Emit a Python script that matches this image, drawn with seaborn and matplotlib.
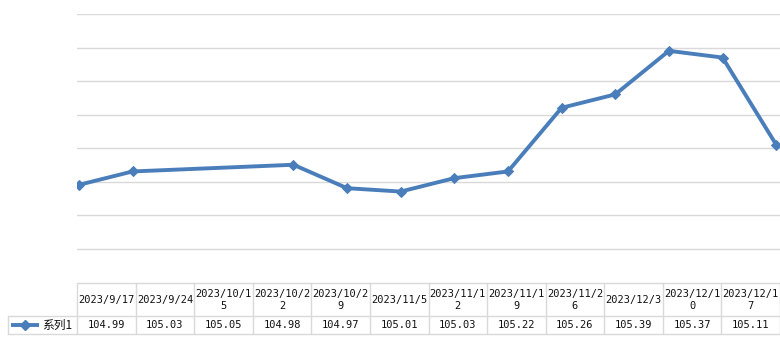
import matplotlib
matplotlib.use("Agg")
import matplotlib.pyplot as plt
import numpy as np
import pandas as pd
import seaborn as sns

# ---- data -------------------------------------------------------------------
dates = ["2023/9/17", "2023/9/24", "2023/10/15", "2023/10/22", "2023/10/29",
         "2023/11/5", "2023/11/12", "2023/11/19", "2023/11/26", "2023/12/3",
         "2023/12/10", "2023/12/17"]
header_labels = ["2023/9/17", "2023/9/24", "2023/10/1\n5", "2023/10/2\n2", "2023/10/2\n9",
                 "2023/11/5", "2023/11/1\n2", "2023/11/1\n9", "2023/11/2\n6", "2023/12/3",
                 "2023/12/1\n0", "2023/12/1\n7"]
values = [104.99, 105.03, 105.05, 104.98, 104.97, 105.01, 105.03, 105.22,
          105.26, 105.39, 105.37, 105.11]
series_name = "系列1"

sns.set_theme(style="white")
plt.rcParams["font.family"] = ["Noto Sans CJK SC", "DejaVu Sans"]

W, H = 780, 356
BLUE = "#4a7ebb"
GRID = "#d9d9d9"
MONO = ["DejaVu Sans Mono", "Noto Sans CJK SC"]
df = pd.DataFrame({"date": pd.to_datetime(dates, format="%Y/%m/%d"), "value": values})

fig = plt.figure(figsize=(W / 100, H / 100), dpi=100)

# ---- line chart -------------------------------------------------------------
ax = fig.add_axes([77 / W, (H - 282) / H, (780 - 77) / W, (282 - 14) / H])
sns.lineplot(data=df, x="date", y="value", ax=ax, color=BLUE, lw=2.8,
             marker="D", markersize=5.5, markeredgecolor=BLUE, markerfacecolor=BLUE)
d0, d1 = df["date"].iloc[0], df["date"].iloc[-1]
ax.set_xlim(d0 - pd.Timedelta(hours=6), d1 + pd.Timedelta(hours=12))
ax.set_ylim(104.7, 105.5)
ax.set_yticks(np.arange(104.8, 105.51, 0.1))
ax.yaxis.grid(True, color=GRID, lw=1)
ax.set_yticklabels([]); ax.set_xticks([])
ax.tick_params(left=False, bottom=False)
ax.set_xlabel(""); ax.set_ylabel("")
for s in ax.spines.values():
    s.set_visible(False)

# ---- data table -------------------------------------------------------------
tb = fig.add_axes([0, 0, 1, 1])
tb.set_xlim(0, W); tb.set_ylim(H, 0); tb.axis("off")
top, mid, bot = 283, 316, 334
left_col, x0, x1 = 8, 77, 780
cw = (x1 - x0) / len(values)
kw = dict(color=GRID, lw=1)
tb.plot([x0, x1], [top, top], **kw)
tb.plot([left_col, x1], [mid, mid], **kw)
tb.plot([left_col, x1], [bot, bot], **kw)
tb.plot([left_col, left_col], [mid, bot], **kw)
for i in range(len(values) + 1):
    xe = x0 + i * cw
    tb.plot([xe, xe], [top, bot], **kw)
for i, (lab, v) in enumerate(zip(header_labels, values)):
    xc = x0 + (i + 0.5) * cw
    tb.text(xc, (top + mid) / 2 + 0.5, lab, ha="center", va="center", fontsize=7.5,
            family=MONO, linespacing=1.15, color="#111111")
    tb.text(xc, (mid + bot) / 2 + 0.5, f"{v:.2f}", ha="center", va="center",
            fontsize=7.5, family=MONO, color="#111111")
tb.plot([11, 39], [325, 325], color=BLUE, lw=2.8, solid_capstyle="butt")
tb.plot([25], [325], marker="D", color=BLUE, markersize=5)
tb.text(42, 325.5, series_name, ha="left", va="center", fontsize=8.5, color="#111111")

fig.savefig("out.png", dpi=100)
